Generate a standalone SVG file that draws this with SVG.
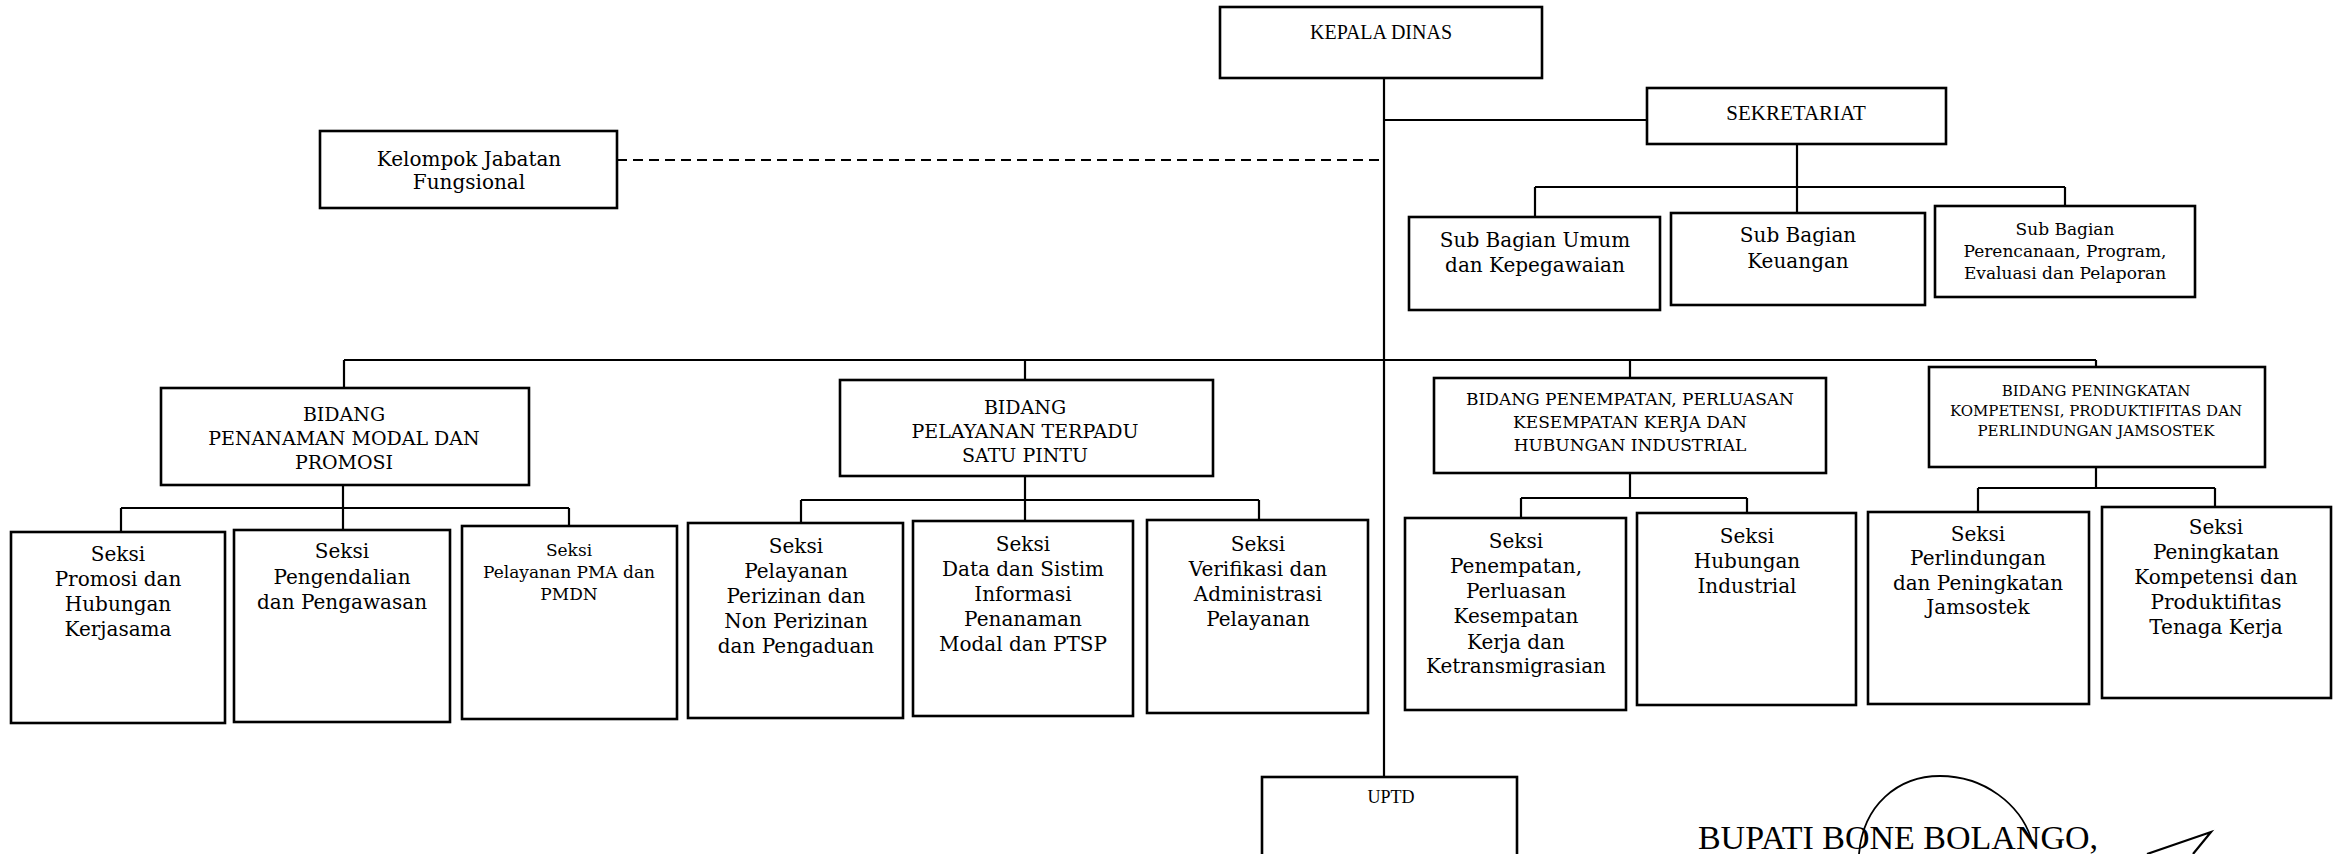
<svg xmlns="http://www.w3.org/2000/svg" width="2339" height="854" viewBox="0 0 2339 854">
<style>
.box{fill:#fff;stroke:#000;stroke-width:2.6}
.ln{fill:none;stroke:#000;stroke-width:2.2}
.dash{fill:none;stroke:#000;stroke-width:2.2;stroke-dasharray:10 6}
text{font-family:"DejaVu Serif","Liberation Serif",serif;font-size:20px;fill:#000;text-anchor:middle}
.cap{font-family:"Liberation Serif","DejaVu Serif",serif;font-size:20px}
.s17{font-size:17px}
.s15{font-size:15px}
.b19{font-size:19px}
</style>
<rect width="2339" height="854" fill="#fff"/>
<g id="connectors">
<path class="ln" d="M1384,79 V777"/>
<path class="ln" d="M1384,120 H1647"/>
<path class="dash" d="M617,160 H1384"/>
<path class="ln" d="M1797,144 V187 M1535,187 H2065 M1535,187 V217 M1797,187 V213 M2065,187 V206"/>
<path class="ln" d="M344,360 H2096 M344,360 V388 M1025,360 V380 M1630,360 V378 M2096,360 V367"/>
<path class="ln" d="M343,485 V530 M121,508 H569 M121,508 V532 M569,508 V526"/>
<path class="ln" d="M1025,476 V521 M801,500 H1259 M801,500 V523 M1259,500 V520"/>
<path class="ln" d="M1630,473 V498 M1521,498 H1747 M1521,498 V518 M1747,498 V513"/>
<path class="ln" d="M2096,467 V488 M1978,488 H2215 M1978,488 V512 M2215,488 V507"/>
</g>
<g id="kepala-dinas"><rect class="box" x="1220" y="7" width="322" height="71"/><text class="cap" x="1381" y="39">KEPALA DINAS</text></g>
<g id="sekretariat"><rect class="box" x="1647" y="88" width="299" height="56"/><text class="cap" x="1796" y="120" style="font-size:21px">SEKRETARIAT</text></g>
<g id="kelompok-jabatan"><rect class="box" x="320" y="131" width="297" height="77"/><text x="469" y="166">Kelompok Jabatan</text><text x="469" y="189">Fungsional</text></g>
<g id="subbag-umum"><rect class="box" x="1409" y="217" width="251" height="93"/><text x="1535" y="247">Sub Bagian Umum</text><text x="1535" y="272">dan Kepegawaian</text></g>
<g id="subbag-keuangan"><rect class="box" x="1671" y="213" width="254" height="92"/><text x="1798" y="242">Sub Bagian</text><text x="1798" y="268">Keuangan</text></g>
<g id="subbag-perencanaan"><rect class="box" x="1935" y="206" width="260" height="91"/><text class="s17" x="2065" y="235">Sub Bagian</text><text class="s17" x="2065" y="257">Perencanaan, Program,</text><text class="s17" x="2065" y="279">Evaluasi dan Pelaporan</text></g>
<g id="bidang-pm"><rect class="box" x="161" y="388" width="368" height="97"/><text class="b19" x="344" y="421">BIDANG</text><text class="b19" x="344" y="445">PENANAMAN MODAL DAN</text><text class="b19" x="344" y="469">PROMOSI</text></g>
<g id="bidang-ptsp"><rect class="box" x="840" y="380" width="373" height="96"/><text class="b19" x="1025" y="414">BIDANG</text><text class="b19" x="1025" y="438">PELAYANAN TERPADU</text><text class="b19" x="1025" y="462">SATU PINTU</text></g>
<g id="bidang-penempatan"><rect class="box" x="1434" y="378" width="392" height="95"/><text class="s17" x="1630" y="405">BIDANG PENEMPATAN, PERLUASAN</text><text class="s17" x="1630" y="428">KESEMPATAN KERJA DAN</text><text class="s17" x="1630" y="451">HUBUNGAN INDUSTRIAL</text></g>
<g id="bidang-peningkatan"><rect class="box" x="1929" y="367" width="336" height="100"/><text class="s15" x="2096" y="396">BIDANG PENINGKATAN</text><text class="s15" x="2096" y="416">KOMPETENSI, PRODUKTIFITAS DAN</text><text class="s15" x="2096" y="436">PERLINDUNGAN JAMSOSTEK</text></g>
<g id="seksi-promosi"><rect class="box" x="11" y="532" width="214" height="191"/><text x="118" y="561">Seksi</text><text x="118" y="586">Promosi dan</text><text x="118" y="611">Hubungan</text><text x="118" y="636">Kerjasama</text></g>
<g id="seksi-pengendalian"><rect class="box" x="234" y="530" width="216" height="192"/><text x="342" y="558">Seksi</text><text x="342" y="584">Pengendalian</text><text x="342" y="609">dan Pengawasan</text></g>
<g id="seksi-pma"><rect class="box" x="462" y="526" width="215" height="193"/><text class="s17" x="569" y="556">Seksi</text><text class="s17" x="569" y="578">Pelayanan PMA dan</text><text class="s17" x="569" y="600">PMDN</text></g>
<g id="seksi-perizinan"><rect class="box" x="688" y="523" width="215" height="195"/><text x="796" y="553">Seksi</text><text x="796" y="578">Pelayanan</text><text x="796" y="603">Perizinan dan</text><text x="796" y="628">Non Perizinan</text><text x="796" y="653">dan Pengaduan</text></g>
<g id="seksi-data"><rect class="box" x="913" y="521" width="220" height="195"/><text x="1023" y="551">Seksi</text><text x="1023" y="576">Data dan Sistim</text><text x="1023" y="601">Informasi</text><text x="1023" y="626">Penanaman</text><text x="1023" y="651">Modal dan PTSP</text></g>
<g id="seksi-verifikasi"><rect class="box" x="1147" y="520" width="221" height="193"/><text x="1258" y="551">Seksi</text><text x="1258" y="576">Verifikasi dan</text><text x="1258" y="601">Administrasi</text><text x="1258" y="626">Pelayanan</text></g>
<g id="seksi-penempatan"><rect class="box" x="1405" y="518" width="221" height="192"/><text x="1516" y="548">Seksi</text><text x="1516" y="573">Penempatan,</text><text x="1516" y="598">Perluasan</text><text x="1516" y="623">Kesempatan</text><text x="1516" y="649">Kerja dan</text><text x="1516" y="673">Ketransmigrasian</text></g>
<g id="seksi-hubungan"><rect class="box" x="1637" y="513" width="219" height="192"/><text x="1747" y="543">Seksi</text><text x="1747" y="568">Hubungan</text><text x="1747" y="593">Industrial</text></g>
<g id="seksi-perlindungan"><rect class="box" x="1868" y="512" width="221" height="192"/><text x="1978" y="541">Seksi</text><text x="1978" y="565">Perlindungan</text><text x="1978" y="590">dan Peningkatan</text><text x="1978" y="614">Jamsostek</text></g>
<g id="seksi-peningkatan"><rect class="box" x="2102" y="507" width="229" height="191"/><text x="2216" y="534">Seksi</text><text x="2216" y="559">Peningkatan</text><text x="2216" y="584">Kompetensi dan</text><text x="2216" y="609">Produktifitas</text><text x="2216" y="634">Tenaga Kerja</text></g>
<g id="uptd"><rect class="box" x="1262" y="777" width="255" height="90"/><text class="cap" x="1391" y="803" style="font-size:18px">UPTD</text></g>
<g id="signature">
<text class="cap" x="1898" y="849" style="font-size:34px">BUPATI BONE BOLANGO,</text>
<path fill="none" stroke="#000" stroke-width="1.8" d="M1859,854 C1863,805 1898,776 1940,776 C1985,776 2020,805 2031,838"/>
<path fill="none" stroke="#000" stroke-width="2.2" d="M2147,854 L2211,832 L2193,854"/>
</g>
</svg>
